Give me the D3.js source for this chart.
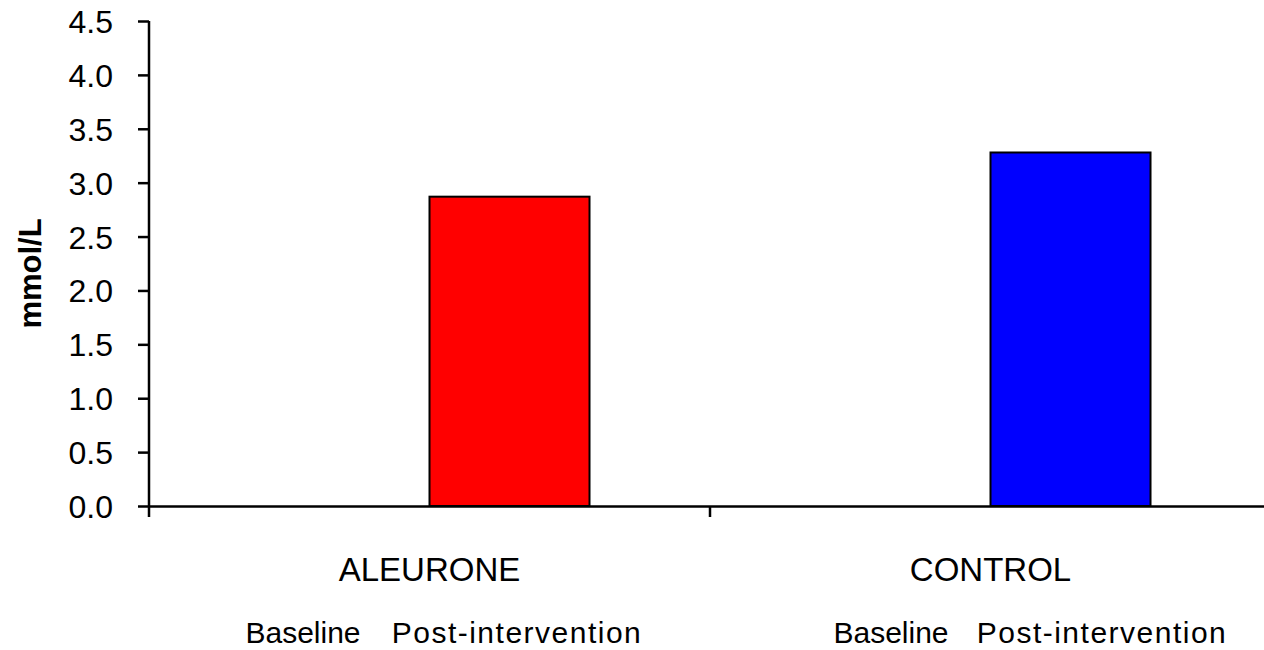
<!DOCTYPE html>
<html>
<head>
<meta charset="utf-8">
<script src="https://cdn.jsdelivr.net/npm/d3@7"></script>
<style>
  html, body { margin: 0; padding: 0; background: #fff; }
  svg { display: block; font-family: Arial, "Liberation Sans", sans-serif; }
</style>
</head>
<body>
<svg id="chart" width="1264" height="650"></svg>
<script>
// ---- data ----
const categories = ["ALEURONE", "CONTROL"];
const seriesNames = ["Baseline", "Post-intervention"];
const baselineValues = [null, null];
const postValues = [2.87, 3.28];
const seriesColors = ["#ff0000", "#0000ff"]; // post-intervention bar colours per category
const yTicks = [0, 0.5, 1.0, 1.5, 2.0, 2.5, 3.0, 3.5, 4.0, 4.5];
const yLabel = "mmol/L";

// ---- layout ----
const svg = d3.select("#chart");
const plot = { left: 149, right: 1271, top: 21, bottom: 506 };
const FS = 32;

const x0 = d3.scaleBand().domain(categories).range([plot.left, plot.right]).paddingInner(0).paddingOuter(0);
const x1 = d3.scaleBand().domain(seriesNames).range([0, x0.bandwidth()]).paddingInner(0).paddingOuter(0.753);
const y = d3.scaleLinear().domain([0, 4.5]).range([plot.bottom, plot.top]);

const rows = categories.map((c, i) => ({
  cat: c,
  values: [
    { s: seriesNames[0], v: baselineValues[i], color: seriesColors[i] },
    { s: seriesNames[1], v: postValues[i], color: seriesColors[i] }
  ]
}));

// bars
const g = svg.append("g");
g.selectAll("g.cat").data(rows).join("g")
  .attr("class", "cat")
  .attr("transform", d => `translate(${x0(d.cat)},0)`)
  .selectAll("rect")
  .data(d => d.values.filter(v => v.v != null))
  .join("rect")
  .attr("x", d => x1(d.s))
  .attr("width", x1.bandwidth())
  .attr("y", d => y(d.v))
  .attr("height", d => y(0) - y(d.v))
  .attr("fill", d => d.color)
  .attr("stroke", "#000")
  .attr("stroke-width", 2);

// y axis
const yAxis = svg.append("g")
  .attr("transform", `translate(${plot.left},0)`)
  .call(d3.axisLeft(y).tickValues(yTicks).tickFormat(d3.format(".1f")).tickSize(11).tickSizeOuter(0).tickPadding(25));
yAxis.select(".domain").attr("stroke", "#000").attr("stroke-width", 2.5)
  .attr("d", `M0,${plot.top}V${plot.bottom + 11}`);
yAxis.selectAll(".tick line").attr("stroke", "#000").attr("stroke-width", 2.5);
yAxis.selectAll(".tick text").attr("font-size", FS).attr("fill", "#000")
  .attr("font-family", "Arial, 'Liberation Sans', sans-serif").attr("dy", "0.36em");

// x axis
const xAxis = svg.append("g")
  .attr("transform", `translate(0,${plot.bottom})`)
  .call(d3.axisBottom(x0).tickSize(0).tickFormat(""));
xAxis.select(".domain").attr("stroke", "#000").attr("stroke-width", 2.5);
xAxis.selectAll(".tick").remove();
const boundaries = categories.map(c => x0(c)).concat([x0.range()[1]]);
xAxis.selectAll("line.bt").data(boundaries.slice(1)).join("line")
  .attr("class", "bt")
  .attr("x1", d => d).attr("x2", d => d)
  .attr("y1", 0).attr("y2", 11)
  .attr("stroke", "#000").attr("stroke-width", 2.5);

// category labels
svg.selectAll("text.cat").data(categories).join("text")
  .attr("class", "cat")
  .attr("x", d => x0(d) + x0.bandwidth() / 2)
  .attr("y", 581)
  .attr("text-anchor", "middle")
  .attr("font-size", 33)
  .attr("fill", "#000")
  .text(d => d);

// sub labels (Baseline / Post-intervention) — manually placed text boxes
const subOffsets = [[-126.5, 87.5], [-99.5, 111.5]];
const subSpacing = [0, 1.5];
categories.forEach((c, i) => {
  const cx = x0(c) + x0.bandwidth() / 2;
  svg.selectAll(null).data(seriesNames).join("text")
    .attr("x", (d, j) => cx + subOffsets[i][j])
    .attr("y", 643)
    .attr("text-anchor", "middle")
    .attr("font-size", 30)
    .attr("letter-spacing", (d, j) => subSpacing[j])
    .attr("fill", "#000")
    .text(d => d);
});

// y label
svg.append("text")
  .attr("transform", `translate(41,${(plot.top + plot.bottom) / 2 + 10}) rotate(-90)`)
  .attr("text-anchor", "middle")
  .attr("font-size", 31)
  .attr("font-weight", "bold")
  .attr("fill", "#000")
  .text(yLabel);
</script>
</body>
</html>
